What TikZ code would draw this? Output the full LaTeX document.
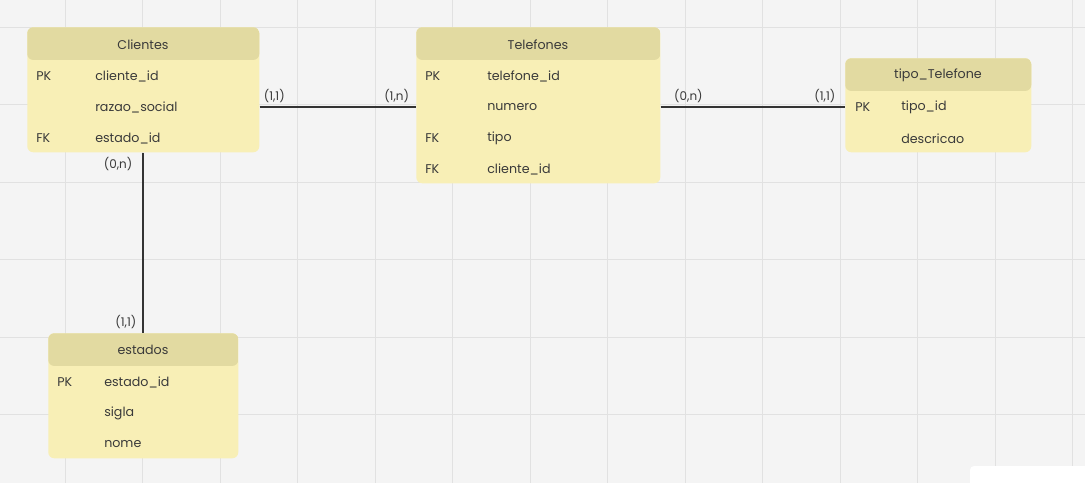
\documentclass[tikz,border=0pt]{standalone}
\usepackage{fontspec}
\setmainfont{Poppins}
\usepackage{xcolor}
\usetikzlibrary{positioning}

\definecolor{paper}{HTML}{F4F4F4}
\definecolor{gridgrey}{HTML}{E1E1E1}
\definecolor{entbody}{HTML}{F8EFB6}
\definecolor{enthead}{HTML}{E2DAA1}
\definecolor{ink}{HTML}{3A3A3A}
\definecolor{relink}{HTML}{333333}

\tikzset{
    entity/.style={fill=entbody, rounded corners=4.5pt, anchor=north west, inner sep=0pt,
        path picture={\fill[enthead] (path picture bounding box.north west) rectangle ([yshift=-24.5pt]path picture bounding box.north east);}},
    entname/.style={font=\fontsize{9.5}{11}\selectfont, text=ink, inner sep=0pt, yshift=-1pt},
    field/.style={font=\fontsize{9.5}{11}\selectfont, text=ink, anchor=west, inner sep=0pt, yshift=-1pt},
    card/.style={font=\fontsize{9}{10}\selectfont, text=ink, inner sep=2.5pt},
    rel/.style={draw=relink, line width=1.4pt},
    gridline/.style={draw=gridgrey, line width=0.7pt}
}

\begin{document}
\begin{tikzpicture}[x=0.75pt, y=-0.75pt]
    \useasboundingbox (0,0) rectangle (1085,483);
    \fill[paper] (0,0) rectangle (1085,483);
    \foreach \gx in {0,...,13}
        \draw[gridline] (65+77.5*\gx,0) -- (65+77.5*\gx,483);
    \foreach \gy in {0,...,5}
        \draw[gridline] (0,27+77.5*\gy) -- (1085,27+77.5*\gy);
    \fill[white, rounded corners=3pt] (970,466) rectangle (1090,490);

    % Clientes
    \node[entity, minimum width=232*0.75pt, minimum height=125*0.75pt] (clientes) at (27,27) {};
    \node[entname] (clientes-title) at (143,43) {Clientes};
    \node[field] (cli-k1) at (36,75) {PK};
    \node[field] (cli-f1) at (95,75) {cliente\_id};
    \node[field] (cli-f2) at (95,106) {razao\_social};
    \node[field] (cli-k3) at (36,137) {FK};
    \node[field] (cli-f3) at (95,137) {estado\_id};

    % Telefones
    \node[entity, minimum width=244*0.75pt, minimum height=156*0.75pt] (telefones) at (416,27) {};
    \node[entname] (telefones-title) at (538,43) {Telefones};
    \node[field] (tel-k1) at (425,75) {PK};
    \node[field] (tel-f1) at (487,75) {telefone\_id};
    \node[field] (tel-f2) at (487,106) {numero};
    \node[field] (tel-k3) at (425,137) {FK};
    \node[field] (tel-f3) at (487,137) {tipo};
    \node[field] (tel-k4) at (425,168) {FK};
    \node[field] (tel-f4) at (487,168) {cliente\_id};

    % tipo_Telefone
    \node[entity, minimum width=186*0.75pt, minimum height=94*0.75pt] (tipotel) at (845,58) {};
    \node[entname] (tipotel-title) at (938,74) {tipo\_Telefone};
    \node[field] (tip-k1) at (855,106) {PK};
    \node[field] (tip-f1) at (901,106) {tipo\_id};
    \node[field] (tip-f2) at (901,137) {descricao};

    % estados
    \node[entity, minimum width=190*0.75pt, minimum height=125*0.75pt] (estados) at (48,333) {};
    \node[entname] (estados-title) at (143,349) {estados};
    \node[field] (est-k1) at (57,381) {PK};
    \node[field] (est-f1) at (104,381) {estado\_id};
    \node[field] (est-f2) at (104,412) {sigla};
    \node[field] (est-f3) at (104,443) {nome};

    % relacionamentos
    \draw[rel] (clientes.east |- cli-f2) -- (telefones.west |- tel-f2)
        node[card, pos=0, above right] {(1,1)}
        node[card, pos=1, above left, xshift=-2pt] {(1,n)};
    \draw[rel] (telefones.east |- tel-f2) -- (tipotel.west |- tip-f1)
        node[card, pos=0, above right, xshift=7pt] {(0,n)}
        node[card, pos=1, above left, xshift=-4pt] {(1,1)};
    \draw[rel] (clientes.south) -- (estados.north)
        node[card, pos=0, below left, xshift=-5pt] {(0,n)}
        node[card, pos=1, above left, xshift=-2pt] {(1,1)};
\end{tikzpicture}
\end{document}
